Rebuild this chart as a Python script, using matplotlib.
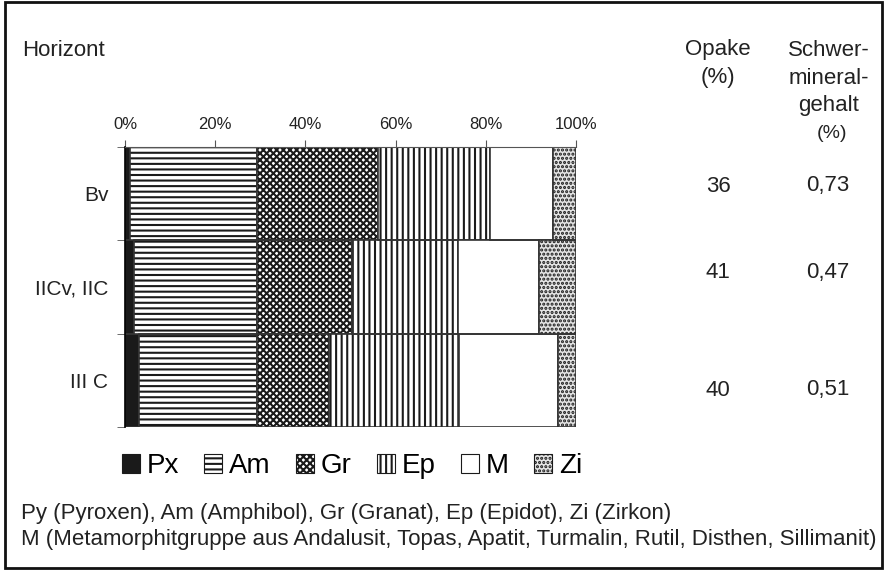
import matplotlib
matplotlib.use("Agg")
import matplotlib.pyplot as plt
from matplotlib.patches import Patch, Rectangle

plt.rcParams['font.family'] = ['Liberation Sans', 'DejaVu Sans']
plt.rcParams['hatch.linewidth'] = 1.5

horizons = ['Bv', 'IICv, IIC', 'III C']
minerals = ['Px', 'Am', 'Gr', 'Ep', 'M', 'Zi']
px = [1.1, 2.1, 3.2]
am = [28.1, 27.1, 26.0]
gr = [26.8, 21.1, 16.1]
ep = [24.9, 23.5, 28.7]
m = [13.9, 18.0, 21.9]
zi = [5.2, 8.2, 4.1]
opake = ['36', '41', '40']
schwer = ['0,73', '0,47', '0,51']

# fill style for each mineral group: (face, hatch)
styles = [('#1a1a1a', None), ('white', '---'), ('white', 'xxxxx'),
          ('white', '|||'), ('white', None), ('#e4e4e4', '....')]

W, H = 886, 570
TXT = '#222222'
fig = plt.figure(figsize=(W / 100, H / 100), dpi=100)
ax = fig.add_axes([125 / W, 1 - 427 / H, 451 / W, 280 / H])


def fx(x):
    return x / W


def fy(y):
    return 1 - y / H


ypos = range(len(horizons))
left = [0, 0, 0]
for series, (face, hatch) in zip([px, am, gr, ep, m, zi], styles):
    ax.barh(ypos, series, left=left, height=1.0, color=face, hatch=hatch,
            edgecolor='#1a1a1a', linewidth=0)
    ax.barh(ypos, series, left=left, height=1.0, fill=False,
            edgecolor='#333333', linewidth=1.2)
    left = [l + s for l, s in zip(left, series)]

ax.set_xlim(0, 100)
ax.set_ylim(2.5, -0.5)
ax.xaxis.tick_top()
ax.set_xticks(range(0, 101, 20))
ax.set_xticklabels([f'{t}%' for t in range(0, 101, 20)], fontsize=12, color=TXT)
ax.tick_params(axis='x', length=5, pad=6, color='#555555')
ax.set_yticks(list(ypos))
ax.set_yticklabels(horizons, fontsize=15, color=TXT)
ax.set_yticks([-0.5, 0.5, 1.5, 2.5], minor=True)
ax.tick_params(axis='y', which='major', length=0, pad=12)
ax.tick_params(axis='y', which='minor', length=6, color='#555555')
for s in ['right', 'bottom']:
    ax.spines[s].set_visible(False)
ax.spines['left'].set_linewidth(1.2)
ax.spines['top'].set_color('#555555')

# header texts
fig.text(fx(22), fy(50), 'Horizont', fontsize=16, va='center', color=TXT)
fig.text(fx(718), fy(50), 'Opake', fontsize=16, ha='center', va='center', color=TXT)
fig.text(fx(718), fy(78), '(%)', fontsize=16, ha='center', va='center', color=TXT)
for yy, line in zip([50, 78, 105], ['Schwer-', 'mineral-', 'gehalt']):
    fig.text(fx(829), fy(yy), line, fontsize=16, ha='center', va='center', color=TXT)
fig.text(fx(832), fy(133), '(%)', fontsize=14, ha='center', va='center', color=TXT)

# value columns
for yy, o, s in zip([186, 273, 390], opake, schwer):
    fig.text(fx(718), fy(yy), o, fontsize=16, ha='center', va='center', color=TXT)
    fig.text(fx(828), fy(yy), s, fontsize=16, ha='center', va='center', color=TXT)

handles = [Patch(facecolor=f, hatch=h, edgecolor='#1a1a1a', linewidth=0.8, label=lab)
           for (f, h), lab in zip(styles, minerals)]
fig.legend(handles=handles, loc='center', bbox_to_anchor=(fx(352), fy(466)),
           ncol=6, frameon=False, fontsize=20, handlelength=0.65, handleheight=0.65,
           handletextpad=0.25, columnspacing=0.9)

fig.text(fx(21), fy(513), 'Py (Pyroxen), Am (Amphibol), Gr (Granat), Ep (Epidot), Zi (Zirkon)',
         fontsize=16, va='center', color=TXT)
fig.text(fx(21), fy(539), 'M (Metamorphitgruppe aus Andalusit, Topas, Apatit, Turmalin, Rutil, Disthen, Sillimanit)',
         fontsize=16, va='center', color=TXT)

fig.patches.append(Rectangle((0.006, 0.003), 0.99, 0.994, transform=fig.transFigure,
                             fill=False, edgecolor='#111111', linewidth=2))

fig.savefig('out.png', dpi=100)
